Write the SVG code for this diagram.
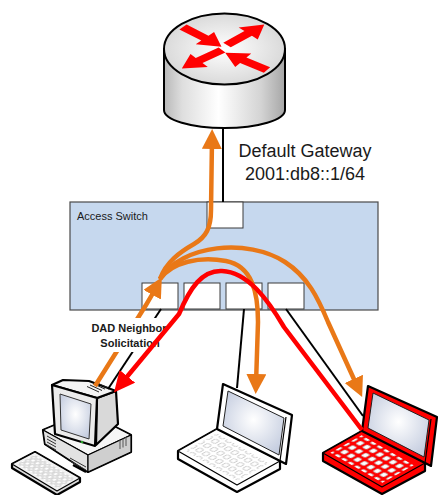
<svg xmlns="http://www.w3.org/2000/svg" width="438" height="495" viewBox="0 0 438 495">
  <style>
    .lbl { font-family: "Liberation Sans", Arial, sans-serif; fill: #1a1a1a; }
    .gw { font-size: 18px; text-anchor: middle; }
    .sw { font-size: 11px; }
    .dad { font-size: 11px; font-weight: bold; text-anchor: middle; }
    .port { fill: #ffffff; stroke: #3a3a3a; stroke-width: 1; }
    .link { fill: none; stroke: #000000; stroke-width: 2; }
    .flood { fill: none; stroke: #E97817; stroke-width: 4.5; }
    .reply { fill: none; stroke: #FF0000; stroke-width: 4.5; }
    .edge { stroke: #000000; stroke-width: 2.2; stroke-linejoin: round; }
    .thin { stroke: #000000; stroke-width: 1.2; stroke-linejoin: round; }
  </style>
  <defs>
    <marker id="ah-orange" markerUnits="userSpaceOnUse" markerWidth="24" markerHeight="22" refX="10" refY="10" orient="auto">
      <path d="M0,0 L20,10 L0,20 Z" fill="#E97817"/>
    </marker>
    <marker id="ah-red" markerUnits="userSpaceOnUse" markerWidth="24" markerHeight="22" refX="10" refY="10" orient="auto">
      <path d="M0,0 L21,10 L0,20 Z" fill="#FF0000"/>
    </marker>
    <linearGradient id="cyl" x1="0" y1="0" x2="1" y2="0">
      <stop offset="0" stop-color="#b8b8b8"/>
      <stop offset="0.15" stop-color="#dedede"/>
      <stop offset="0.45" stop-color="#ffffff"/>
      <stop offset="0.8" stop-color="#d4d4d4"/>
      <stop offset="1" stop-color="#a6a6a6"/>
    </linearGradient>
    <radialGradient id="rtop" cx="0.5" cy="0.5" r="0.55">
      <stop offset="0" stop-color="#ffffff"/>
      <stop offset="1" stop-color="#d6d6d6"/>
    </radialGradient>
    <radialGradient id="scr" cx="0.5" cy="0.45" r="0.6">
      <stop offset="0" stop-color="#ffffff"/>
      <stop offset="1" stop-color="#c6cee0"/>
    </radialGradient>
    <!-- key grid of the laptop deck, skewed onto the deck plane -->
    <pattern id="keys-lap" patternUnits="userSpaceOnUse" width="10" height="10" patternTransform="matrix(0.656 0.378 0.78 -0.44 323 453)">
      <rect x="2" y="2" width="6" height="6" rx="1" fill="#ffffff" stroke="#b0b0b0" stroke-width="0.8"/>
    </pattern>
    <pattern id="keys-kb" patternUnits="userSpaceOnUse" width="10" height="10" patternTransform="matrix(0.45 0.27 0.575 -0.3 12 464)">
      <rect x="1.5" y="1.5" width="7" height="7" rx="1" fill="#ffffff" stroke="#a8a8a8" stroke-width="1"/>
    </pattern>
    <!-- laptop outline, fill colour taken from the 'color' of each use -->
    <g id="laptop">
      <path class="edge" fill="currentColor" d="M362,431 L323,453 L323,461 L382,494 L425,471 L425,463 Z"/>
      <path class="thin" fill="currentColor" d="M362,431 L323,453 L382,487 L425,463 Z"/>
      <polygon points="330.4,452.8 382.4,482.8 413.6,465.2 361.6,435.2" fill="url(#keys-lap)"/>
      <path class="edge" fill="currentColor" d="M368,386 L437,417 L431,466 L362,431 Z"/>
      <path d="M431,419 L425,463" stroke="#000" stroke-width="1.2" fill="none"/>
      <path d="M373,393 L429,420 L424,457 L368,428 Z" fill="url(#scr)" stroke="#222" stroke-width="1"/>
    </g>
  </defs>

  <!-- router -->
  <g id="router">
    <path d="M164,49 V110 A60.5,18 0 0 0 285,110 V49 Z" fill="url(#cyl)" stroke="#000" stroke-width="2"/>
    <ellipse cx="224.5" cy="49" rx="60.5" ry="35.5" fill="url(#rtop)" stroke="#000" stroke-width="2"/>
    <g transform="translate(224.5,49) scale(1,0.587)" fill="#FF0000">
      <polygon points="0,-5.5 29,-5.5 29,-14 51,0 29,14 29,5.5 0,5.5" transform="translate(-41.5,-37.5) rotate(41)"/>
      <polygon points="0,-5.5 29,-5.5 29,-14 51,0 29,14 29,5.5 0,5.5" transform="translate(2.5,-6.8) rotate(-43)"/>
      <polygon points="0,-5.5 29,-5.5 29,-14 51,0 29,14 29,5.5 0,5.5" transform="translate(-2.5,1.7) rotate(142)"/>
      <polygon points="0,-5.5 29,-5.5 29,-14 51,0 29,14 29,5.5 0,5.5" transform="translate(42.5,35.8) rotate(215)"/>
    </g>
  </g>

  <!-- gateway address -->
  <g id="gateway-label">
    <text class="lbl gw" x="305" y="157">Default Gateway</text>
    <text class="lbl gw" x="305" y="180">2001:db8::1/64</text>
  </g>

  <!-- access switch with its ports -->
  <g id="switch">
    <rect x="70" y="202" width="308" height="108" fill="#C6D8EE" stroke="#4a4a4a" stroke-width="1.2"/>
    <text class="lbl sw" x="77" y="220">Access Switch</text>
    <rect class="port" x="207" y="202" width="36" height="26"/>
    <rect class="port" x="142" y="283" width="36" height="26"/>
    <rect class="port" x="184" y="283" width="36" height="26"/>
    <rect class="port" x="226" y="283" width="36" height="26"/>
    <rect class="port" x="268" y="283" width="36" height="26"/>
  </g>

  <!-- desktop host -->
  <g id="desktop">
    <path class="edge" fill="#e6e6e6" d="M43,430 L86,412 L131,435 L131,452 L88,472 L45,444 Z"/>
    <path class="thin" fill="#f6f6f6" d="M43,430 L86,412 L131,435 L88,455 Z"/>
    <path class="thin" fill="#e2e2e2" d="M43,430 L88,455 L88,472 L45,444 Z"/>
    <path class="thin" fill="#cfcfcf" d="M88,455 L131,435 L131,452 L88,472 Z"/>
    <path d="M47,436 l9,5 M47,439 l9,5 M47,442 l9,5 M47,445 l9,5" stroke="#333" stroke-width="1"/>
    <path d="M70,458 l16,9 M70,461 l16,9" stroke="#333" stroke-width="1"/>
    <path d="M73,465 l13,7" stroke="#000" stroke-width="2.2"/>
    <path d="M120,440 v9 M123,438.5 v9 M126,437 v9" stroke="#555" stroke-width="1"/>
    <path class="edge" fill="#d9d9d9" d="M97,398 L116,391 L118,424 L96,445 Z"/>
    <path class="edge" fill="#f3f3f3" d="M52,385 L63,380 L89,381 L116,391 L97,398 Z"/>
    <path class="edge" fill="#ebebeb" d="M52,385 L97,398 L95,446 L55,434 Z"/>
    <path d="M60,394 L91,404 L89,439 L61,430 Z" fill="url(#scr)" stroke="#333" stroke-width="1"/>
    <circle cx="82" cy="442" r="1.3" fill="#2aa02a"/>
    <path d="M87,386.5 l12,5.5 M90,385 l12,5.5 M93,383.6 l12,5.5 M96,382.4 l12,5.5" stroke="#222" stroke-width="1"/>
    <path class="edge" fill="#dcdcdc" d="M12,464 L35,452 L80,478 L80,482 L57,495 L12,468 Z"/>
    <path class="thin" fill="#f2f2f2" d="M12,464 L35,452 L80,478 L57,491 Z"/>
    <polygon points="17,463.9 57.5,488.2 75,479.1 34.5,454.8" fill="url(#keys-kb)"/>
  </g>

  <!-- laptops -->
  <g id="laptop-white">
    <use href="#laptop" x="-145" y="-2" color="#ffffff"/>
  </g>
  <g id="laptop-red">
    <use href="#laptop" color="#FF0000"/>
  </g>

  <!-- connectors -->
  <g id="connectors">
    <path class="link" d="M223,128 V202"/>
    <path class="link" d="M161,309 L108,389"/>
    <path class="link" d="M244,309 L237,388"/>
    <path class="link" d="M286,309 L363,416"/>
    <path class="flood" d="M95,386 L146,305 Q152,295 157,286" marker-end="url(#ah-orange)"/>
    <path class="flood" d="M160,279 C166,262 180,252 194,244 C206,237 211,228 211,210 L212,139" marker-end="url(#ah-orange)"/>
    <path class="flood" d="M160,279 C172,262 200,256 226,261 C252,266 258,292 258,322 L256,384" marker-end="url(#ah-orange)"/>
    <path class="flood" d="M160,279 C182,244 248,238 285,262 C308,277 318,298 328,322 L358,388" marker-end="url(#ah-orange)"/>
  </g>

  <!-- message label -->
  <g id="dad-label">
    <rect x="88" y="318" width="82" height="34" fill="#ffffff"/>
    <text class="lbl dad" x="129" y="332">DAD Neighbor</text>
    <text class="lbl dad" x="130" y="347">Solicitation</text>
  </g>

  <g id="reply-connector">
    <path class="reply" d="M362,430 L284,327 C268,300 248,272 222,271 C202,270 190,288 179,314 L121,384" marker-end="url(#ah-red)"/>
  </g>
</svg>
